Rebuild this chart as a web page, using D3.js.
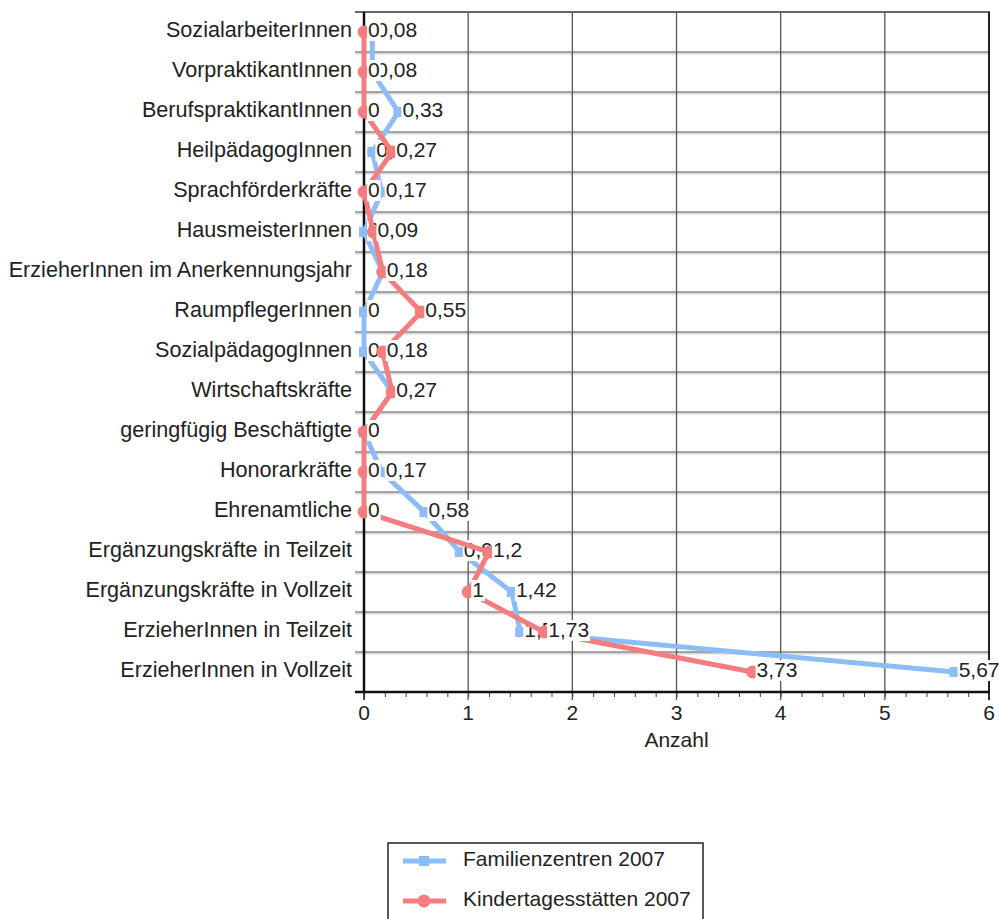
<!DOCTYPE html>
<html>
<head>
<meta charset="utf-8">
<script src="https://cdn.jsdelivr.net/npm/d3@7"></script>
<style>
  body { margin: 0; background: #fff; }
  svg text { font-family: "Liberation Sans", Arial, Helvetica, sans-serif; fill: #222; }
</style>
</head>
<body>
<svg id="chart" width="999" height="919"></svg>
<script>
// Staff categories, top to bottom
const categories = [
  "SozialarbeiterInnen",
  "VorpraktikantInnen",
  "BerufspraktikantInnen",
  "HeilpädagogInnen",
  "Sprachförderkräfte",
  "HausmeisterInnen",
  "ErzieherInnen im Anerkennungsjahr",
  "RaumpflegerInnen",
  "SozialpädagogInnen",
  "Wirtschaftskräfte",
  "geringfügig Beschäftigte",
  "Honorarkräfte",
  "Ehrenamtliche",
  "Ergänzungskräfte in Teilzeit",
  "Ergänzungskräfte in Vollzeit",
  "ErzieherInnen in Teilzeit",
  "ErzieherInnen in Vollzeit"
];

// Average number of staff per institution
const familienzentren = [0.08, 0.08, 0.33, 0.08, 0.17, 0, 0.18, 0, 0, 0.27, 0, 0.17, 0.58, 0.92, 1.42, 1.5, 5.67];
const kindertagesstaetten = [0, 0, 0, 0.27, 0, 0.09, 0.18, 0.55, 0.18, 0.27, 0, 0, 0, 1.2, 1, 1.73, 3.73];

const xTicks = [0, 1, 2, 3, 4, 5, 6];
const seriesNames = ["Familienzentren 2007", "Kindertagesstätten 2007"];
const axisTitle = "Anzahl";

const svg = d3.select("#chart");
const FONT = 21;
const CAT_FONT = 21.6;

const x = d3.scaleLinear().domain([0, 6]).range([364, 989]);
const y = d3.scaleBand().domain(categories).range([12, 692]);
const yc = c => y(c) + y.bandwidth() / 2;

const fmt = v => String(v).replace(".", ",");

// ---- grid ----
const grid = svg.append("g");
// horizontal lines at band boundaries (also extend left as ticks)
const bounds = categories.map(c => y(c)).concat([y.range()[1]]);
bounds.forEach((b, i) => {
  if (i === 0 || i === bounds.length - 1) return;
  grid.append("line").attr("x1", 355).attr("x2", 989).attr("y1", b + 1).attr("y2", b + 1)
    .attr("stroke", "#d8d8d8").attr("stroke-width", 3);
  grid.append("line").attr("x1", 355).attr("x2", 989).attr("y1", b).attr("y2", b)
    .attr("stroke", "#666").attr("stroke-width", 1.2);
});
// top border
grid.append("line").attr("x1", 355).attr("x2", 990).attr("y1", 12).attr("y2", 12)
  .attr("stroke", "#333").attr("stroke-width", 1.5);
// vertical gridlines at integer ticks
xTicks.slice(1).forEach(t => {
  grid.append("line").attr("x1", x(t)).attr("x2", x(t)).attr("y1", 12).attr("y2", 700)
    .attr("stroke", t === 6 ? "#222" : "#555").attr("stroke-width", t === 6 ? 2 : 1.3);
});

// ---- x axis ----
const minorTicks = d3.range(0, 6.0001, 0.2);
const xAxis = d3.axisBottom(x).tickValues(minorTicks).tickSize(5).tickFormat("");
const gx = svg.append("g").attr("transform", "translate(0,692)").call(xAxis);
gx.select(".domain").remove();
gx.selectAll(".tick line").attr("stroke", "#444").attr("stroke-width", 1);
svg.append("line").attr("x1", 355).attr("x2", 990).attr("y1", 692).attr("y2", 692)
  .attr("stroke", "#111").attr("stroke-width", 2.5);
svg.append("line").attr("x1", 364).attr("x2", 364).attr("y1", 692).attr("y2", 700)
  .attr("stroke", "#111").attr("stroke-width", 1.5);
svg.append("g").selectAll("text").data(xTicks).join("text")
  .attr("x", d => x(d)).attr("y", 720)
  .attr("text-anchor", "middle").attr("font-size", FONT).text(d => d);
svg.append("text").attr("x", x(3)).attr("y", 747).attr("text-anchor", "middle")
  .attr("font-size", FONT).text(axisTitle);

// ---- y axis ----
svg.append("line").attr("x1", 364).attr("x2", 364).attr("y1", 12).attr("y2", 693)
  .attr("stroke", "#111").attr("stroke-width", 2.5);
svg.append("g").selectAll("text").data(categories).join("text")
  .attr("x", 352).attr("y", d => yc(d) - 3)
  .attr("dy", "0.35em")
  .attr("text-anchor", "end").attr("font-size", CAT_FONT).text(d => d);

// ---- series ----
const series = [
  { name: seriesNames[0], values: familienzentren, color: "#8cbdf7", shape: "square" },
  { name: seriesNames[1], values: kindertagesstaetten, color: "#f57c7f", shape: "circle" }
];

const line = d3.line().x(d => x(d.v)).y(d => yc(d.c));

function drawMarker(g, shape, color, cx, cy) {
  if (shape === "square") {
    g.append("rect").attr("x", cx - 5).attr("y", cy - 5).attr("width", 10).attr("height", 10)
      .attr("fill", color);
  } else {
    g.append("circle").attr("cx", cx).attr("cy", cy).attr("r", 6.5).attr("fill", color);
  }
}

series.forEach(s => {
  const pts = categories.map((c, i) => ({ c, v: s.values[i] }));
  const g = svg.append("g");
  g.append("path").datum(pts).attr("d", line)
    .attr("fill", "none").attr("stroke", s.color).attr("stroke-width", 5)
    .attr("stroke-linejoin", "miter");
  pts.forEach(p => drawMarker(g, s.shape, s.color, x(p.v), yc(p.c)));
  // value labels on white boxes
  pts.forEach(p => {
    const lg = g.append("g");
    const bg = lg.append("rect").attr("fill", "#fff");
    const t = lg.append("text").attr("x", x(p.v) + 4).attr("y", yc(p.c) - 2)
      .attr("dy", "0.35em").attr("font-size", FONT).text(fmt(p.v));
    const bb = t.node().getBBox();
    bg.attr("x", bb.x - 1).attr("y", yc(p.c) - 12).attr("width", bb.width + 2).attr("height", 21);
  });
});

// ---- legend ----
const lg = svg.append("g");
lg.append("rect").attr("x", 388).attr("y", 843).attr("width", 315).attr("height", 90)
  .attr("fill", "#fff").attr("stroke", "#222").attr("stroke-width", 1.5);
series.forEach((s, i) => {
  const ly = 861 + i * 40;
  lg.append("line").attr("x1", 403).attr("x2", 446).attr("y1", ly).attr("y2", ly)
    .attr("stroke", s.color).attr("stroke-width", 5);
  drawMarker(lg, s.shape, s.color, 424, ly);
  lg.append("text").attr("x", 463).attr("y", ly - 2).attr("dy", "0.35em")
    .attr("font-size", FONT).text(s.name);
});
</script>
</body>
</html>
